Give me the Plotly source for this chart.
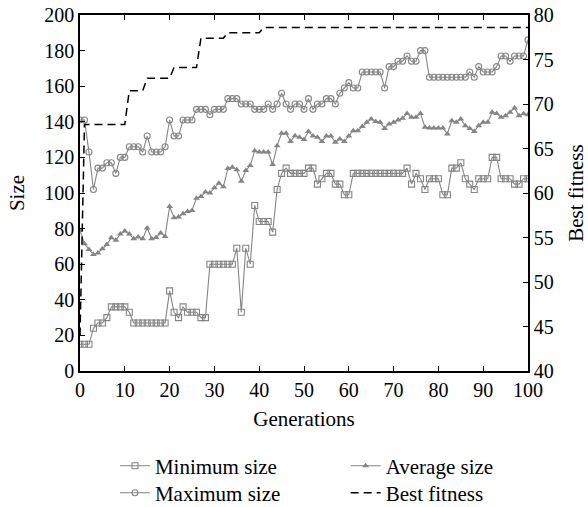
import plotly.graph_objects as go

generations = list(range(0, 101))

min_size = [15, 15, 15, 24, 27, 27, 30, 36, 36, 36, 36, 33,
            27, 27, 27, 27, 27, 27, 27, 27,
            45, 33, 30, 36, 33, 33, 33, 30, 30,
            60, 60, 60, 60, 60, 60,
            69, 33, 69, 60,
            93, 84, 84, 84, 78,
            102, 111, 114,
            111, 111, 111, 111,
            114, 114, 105, 108, 111, 111, 105, 105, 99, 99,
            111, 111, 111, 111, 111, 111, 111, 111, 111, 111, 111, 111,
            114, 105, 111, 108, 102,
            108, 108, 108, 99, 99, 114, 114,
            117, 108, 105, 102,
            108, 108, 108, 120, 120,
            108, 108, 108, 105, 105, 108, 108]

max_size = [141, 141, 123, 102, 114, 114, 117, 117, 111, 120, 120,
            126, 126, 126, 123, 132, 123, 123, 123, 126, 141,
            132, 132, 141, 141, 141, 147, 147, 147, 144, 147, 147, 147,
            153, 153, 153, 150, 150, 150, 147, 147, 147,
            150, 147, 150, 156, 150, 147, 150, 150, 147, 153, 147,
            150, 150, 153, 153, 150, 156, 159, 162, 159, 159,
            168, 168, 168, 168, 168, 159, 171, 171, 174, 174, 177,
            174, 174, 180, 180,
            165, 165, 165, 165, 165, 165, 165, 165, 165,
            168, 165, 171, 168, 168, 168, 171, 177, 177, 174,
            177, 177, 177, 186]

avg_size = [79, 71.5, 68.3, 65.5, 66.3, 68.7, 71, 74.9, 73.4, 77, 78.6,
            77, 74.3, 75.3, 74.3, 80.3, 74.3, 75, 77.5, 75.6, 92.4,
            86.1, 86.5, 88.3, 89.6, 90.2, 97.1, 98, 100.5, 100, 102.9,
            105.5, 103.5, 113.7, 114.4, 113, 106.6, 112.6, 115.4, 123.8, 123,
            123, 123, 116, 126.6, 133.5, 133.5, 129, 132.2, 131.3, 130,
            134.5, 132, 131.3, 129, 132, 132, 128.5, 130.4, 129, 132,
            135, 135, 137.3, 139.8, 141.6, 140.2, 139.7, 136.3, 138.8, 139.7,
            141, 142, 144.7, 142.5, 142.5, 144.7, 136.9, 136.5, 136.5, 136.5,
            136.5, 133.2, 140.6, 139.7, 141.6, 137.8, 136.3, 134.6, 137.8, 139.7,
            139.7, 145.3, 144.7, 142.5, 143.4, 145.3, 147.8, 143.4, 144.5, 144]

best_fitness = ([44] + [67.7] * 10 + [71.5] * 4 + [72.9] * 6 + [74.1] * 6
                + [77.4] * 6 + [78.0] * 8 + [78.6] * 60)

x_ticks = list(range(0, 101, 10))
y_ticks = list(range(0, 201, 20))
y2_ticks = list(range(40, 81, 5))

GRAY = "#858585"
FONT = "Liberation Serif"

fig = go.Figure()
fig.add_trace(go.Scatter(
    x=generations, y=min_size, name="Minimum size", mode="lines+markers",
    line=dict(color=GRAY, width=1.1),
    marker=dict(symbol="square-open", size=6, color=GRAY, line=dict(width=1.1)),
    legend="legend", showlegend=True))
fig.add_trace(go.Scatter(
    x=generations, y=max_size, name="Maximum size", mode="lines+markers",
    line=dict(color=GRAY, width=1.1),
    marker=dict(symbol="circle-open", size=6, color=GRAY, line=dict(width=1.1)),
    legend="legend3", showlegend=True))
fig.add_trace(go.Scatter(
    x=generations, y=avg_size, name="Average size", mode="lines+markers",
    line=dict(color=GRAY, width=1.1),
    marker=dict(symbol="triangle-up", size=6, color=GRAY),
    legend="legend2", showlegend=True))
fig.add_trace(go.Scatter(
    x=generations, y=best_fitness, name="Best fitness", mode="lines",
    line=dict(color="black", width=1.5, dash="8px,5px"),
    yaxis="y2", legend="legend4", showlegend=True))

axis_common = dict(showline=True, linecolor="black", linewidth=1.5,
                   ticks="inside", ticklen=5, tickcolor="black",
                   showgrid=False, zeroline=False,
                   tickfont=dict(family=FONT, size=20, color="black"))

def leg(x, y):
    return dict(x=x, y=y, xanchor="left", yanchor="middle", orientation="v",
                bgcolor="rgba(0,0,0,0)", font=dict(family=FONT, size=21))

fig.update_layout(
    width=588, height=507,
    showlegend=True,
    margin=dict(l=80, r=60, t=15, b=136, autoexpand=False),
    paper_bgcolor="white", plot_bgcolor="white",
    font=dict(family=FONT, size=20, color="black"),
    xaxis=dict(range=[0, 100], tickvals=x_ticks, mirror="ticks",
               title=dict(text="Generations", font=dict(family=FONT, size=21), standoff=12),
               **axis_common),
    yaxis=dict(range=[0, 200], tickvals=y_ticks,
               title=dict(text="Size", font=dict(family=FONT, size=21), standoff=14),
               **axis_common),
    yaxis2=dict(range=[40, 80], tickvals=y2_ticks, overlaying="y", side="right",
                title=dict(text="Best fitness", font=dict(family=FONT, size=21), standoff=16),
                **axis_common),
    legend=leg(0.078, -0.267),
    legend2=leg(0.593, -0.267),
    legend3=leg(0.078, -0.343),
    legend4=leg(0.593, -0.343),
)

fig.write_html("out.html")
